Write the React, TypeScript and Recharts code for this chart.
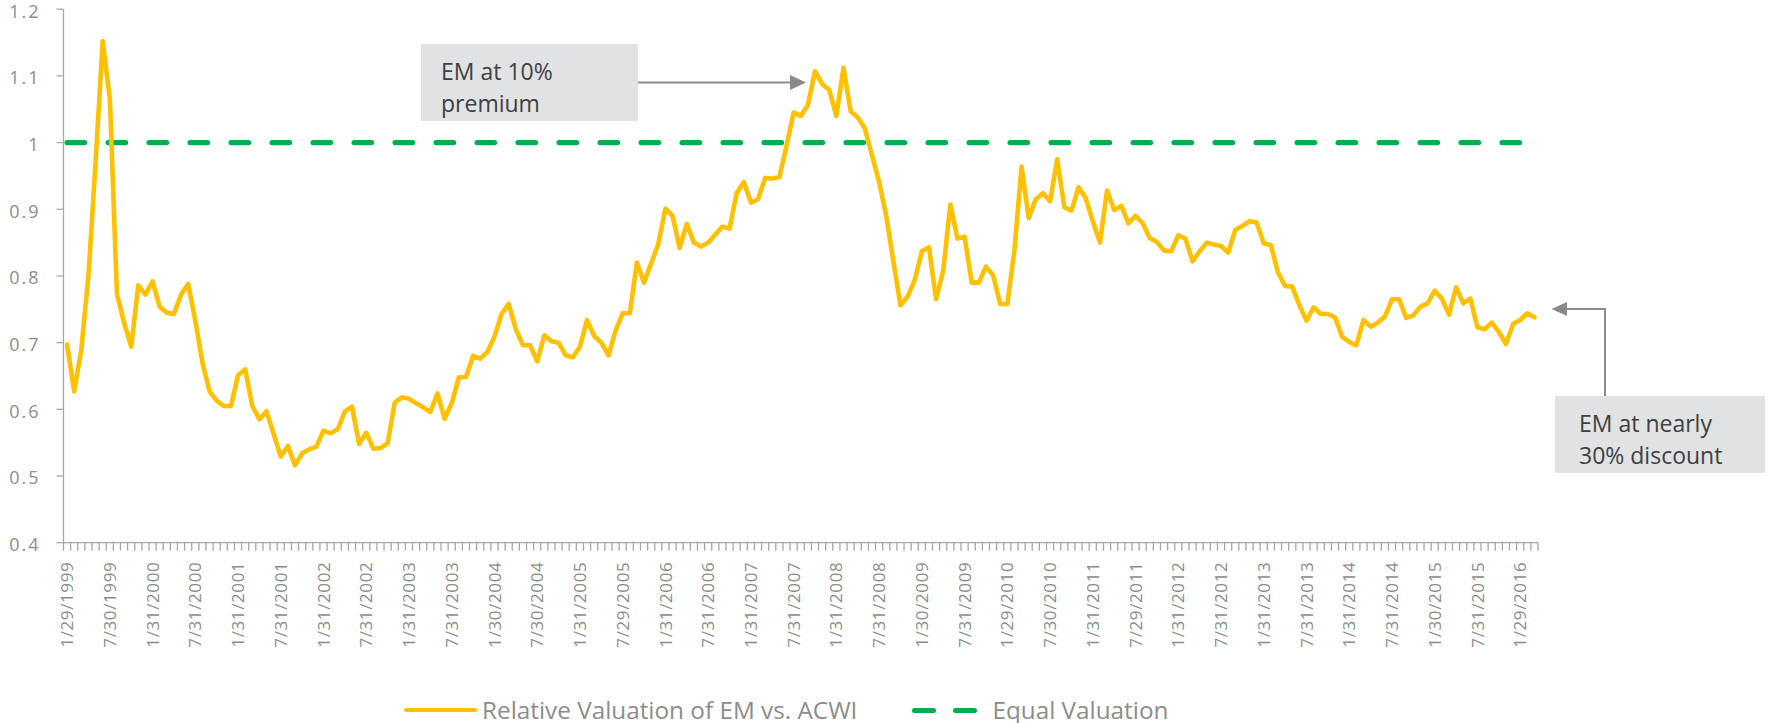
import { LineChart, Line, XAxis, YAxis } from 'recharts';

// monthly series, Jan 1999 .. Mar 2016
const START_YEAR = 1999;

const TICK_LABELS = [
  '1/29/1999', '7/30/1999', '1/31/2000', '7/31/2000', '1/31/2001', '7/31/2001',
  '1/31/2002', '7/31/2002', '1/31/2003', '7/31/2003', '1/30/2004', '7/30/2004',
  '1/31/2005', '7/29/2005', '1/31/2006', '7/31/2006', '1/31/2007', '7/31/2007',
  '1/31/2008', '7/31/2008', '1/30/2009', '7/31/2009', '1/29/2010', '7/30/2010',
  '1/31/2011', '7/29/2011', '1/31/2012', '7/31/2012', '1/31/2013', '7/31/2013',
  '1/31/2014', '7/31/2014', '1/30/2015', '7/31/2015', '1/29/2016',
];

const RELATIVE_VALUATION = [
  0.697, 0.627, 0.69, 0.8, 0.97, 1.152, 1.067, 0.773, 0.73, 0.694,
  0.786, 0.772, 0.792, 0.754, 0.745, 0.743, 0.772, 0.788, 0.733, 0.67,
  0.627, 0.613, 0.605, 0.605, 0.651, 0.66, 0.605, 0.585, 0.597, 0.563,
  0.529, 0.545, 0.516, 0.534, 0.54, 0.544, 0.568, 0.564, 0.57, 0.597,
  0.604, 0.548,
  0.565, 0.541, 0.542, 0.549, 0.61, 0.618, 0.616, 0.609, 0.603, 0.596,
  0.624, 0.586, 0.609, 0.648, 0.648, 0.68, 0.676, 0.686, 0.709, 0.743,
  0.758, 0.72, 0.696, 0.696, 0.672, 0.711, 0.702, 0.7, 0.681, 0.678,
  0.694, 0.734, 0.71, 0.7, 0.681, 0.718, 0.744, 0.744, 0.82, 0.79,
  0.819, 0.848,
  0.901, 0.89, 0.842, 0.878, 0.85, 0.844, 0.85, 0.862, 0.874, 0.871,
  0.924, 0.941, 0.91, 0.915, 0.947, 0.946, 0.948, 0.995, 1.045, 1.04,
  1.056, 1.107, 1.088, 1.079, 1.04, 1.112, 1.047, 1.038, 1.021, 0.981,
  0.941, 0.89, 0.822, 0.756, 0.769, 0.794, 0.837, 0.843, 0.765, 0.808,
  0.907, 0.856, 0.859,
  0.79, 0.79, 0.814, 0.801, 0.758, 0.758, 0.839, 0.964, 0.887, 0.915,
  0.924, 0.912, 0.975, 0.903, 0.898, 0.933, 0.917, 0.882, 0.85, 0.928,
  0.899, 0.905, 0.879, 0.89, 0.879, 0.857, 0.851, 0.838, 0.837, 0.861,
  0.856, 0.822, 0.837, 0.85, 0.847, 0.845, 0.835, 0.869, 0.875, 0.882,
  0.88, 0.849,
  0.846, 0.805, 0.785, 0.784, 0.756, 0.733, 0.753, 0.743, 0.743, 0.738,
  0.709, 0.701, 0.696, 0.734, 0.724, 0.73, 0.739, 0.765, 0.765, 0.737,
  0.741, 0.754, 0.759, 0.778, 0.766, 0.742, 0.783, 0.759, 0.766, 0.723,
  0.72, 0.73, 0.716, 0.698, 0.728, 0.734, 0.744, 0.738,
];

const EQUAL_VALUATION = 1;
const Y_TICKS = [0.4, 0.5, 0.6, 0.7, 0.8, 0.9, 1, 1.1, 1.2];

const data = RELATIVE_VALUATION.map((value, i) => ({
  month: `${START_YEAR + Math.floor(i / 12)}-${String((i % 12) + 1).padStart(2, '0')}`,
  relative: value,
  equal: EQUAL_VALUATION,
}));

const W = 1775;
const H = 723;
const PLOT_LEFT = 63.5;
const PLOT_RIGHT = 1538;
const PLOT_TOP = 9.2;
const PLOT_BOTTOM = 542.7;
const BAND = (PLOT_RIGHT - PLOT_LEFT) / data.length;

const AXIS_GREY = '#A6A6A6';
const TEXT_GREY = '#8C8C8C';
const ARROW_GREY = '#8A8A8A';
const YELLOW = '#FFC000';
const GREEN = '#00B050';
const BOX_GREY = '#E1E2E4';

const MonthTick = (props: any) => {
  const { x, y } = props;
  const index = props.index ?? props.payload?.index ?? 0;
  const label = index % 6 === 0 ? TICK_LABELS[index / 6] : null;
  const ty = y + 19;
  return (
    <g>
      <line x1={x - BAND / 2} x2={x - BAND / 2} y1={y} y2={y + 8} stroke={AXIS_GREY} strokeWidth={1.3} />
      {index === data.length - 1 && (
        <line x1={x + BAND / 2} x2={x + BAND / 2} y1={y} y2={y + 8} stroke={AXIS_GREY} strokeWidth={1.3} />
      )}
      {label && (
        <text
          x={x}
          y={ty}
          dy="0.36em"
          textAnchor="end"
          transform={`rotate(-90, ${x}, ${ty})`}
          fill={TEXT_GREY}
          fontSize={17}
          letterSpacing={0.6}
          fontFamily="'Open Sans', sans-serif"
        >
          {label}
        </text>
      )}
    </g>
  );
};

const legendText = {
  fontFamily: "'Open Sans', sans-serif",
  fontSize: 24.3,
  color: '#8C8C8C',
  lineHeight: '28px',
  whiteSpace: 'nowrap' as const,
};

const boxText = {
  fontFamily: "'Open Sans', sans-serif",
  fontSize: 23,
  lineHeight: '32px',
  color: '#404040',
};

export default function App() {
  return (
    <div style={{ position: 'absolute', left: 0, top: 0, width: W, height: H, background: '#fff' }}>
      <LineChart
        width={W}
        height={H}
        data={data}
        margin={{ top: PLOT_TOP, right: W - PLOT_RIGHT, bottom: 0, left: 0 }}
      >
        <XAxis
          dataKey="month"
          interval={0}
          height={H - PLOT_BOTTOM}
          padding={{ left: BAND / 2, right: BAND / 2 }}
          axisLine={{ stroke: AXIS_GREY, strokeWidth: 1.3 }}
          tickLine={false}
          tickSize={0}
          tickMargin={0}
          tick={<MonthTick />}
        />
        <YAxis
          type="number"
          domain={[0.4, 1.2]}
          ticks={Y_TICKS}
          interval={0}
          width={PLOT_LEFT}
          axisLine={{ stroke: AXIS_GREY, strokeWidth: 1.3 }}
          tickLine={{ stroke: AXIS_GREY, strokeWidth: 1.3 }}
          tickSize={7}
          tickMargin={16}
          tickFormatter={(v: number) => String(Math.round(v * 10) / 10)}
          tick={{ fill: TEXT_GREY, fontSize: 18, letterSpacing: 2, fontFamily: "'Open Sans', sans-serif", dy: 2 }}
        />
        <Line
          dataKey="equal"
          type="linear"
          stroke={GREEN}
          strokeWidth={5.2}
          strokeDasharray="17.5 23.5"
          strokeLinecap="round"
          dot={false}
          isAnimationActive={false}
        />
        <Line
          dataKey="relative"
          type="linear"
          stroke={YELLOW}
          strokeWidth={4.6}
          strokeLinejoin="round"
          strokeLinecap="round"
          dot={false}
          isAnimationActive={false}
        />
      </LineChart>

      {/* annotations */}
      <div style={{ position: 'absolute', left: 421, top: 44, width: 217, height: 77, background: BOX_GREY, boxSizing: 'border-box', padding: '11px 0 0 20px', ...boxText }}>
        EM at 10%
        <br />
        premium
      </div>
      <div style={{ position: 'absolute', left: 1555, top: 396, width: 210, height: 77, background: BOX_GREY, boxSizing: 'border-box', padding: '11px 0 0 24px', ...boxText }}>
        EM at nearly
        <br />
        30% discount
      </div>
      <svg width={W} height={H} style={{ position: 'absolute', left: 0, top: 0, pointerEvents: 'none' }}>
        <line x1={638} y1={82.5} x2={791} y2={82.5} stroke={ARROW_GREY} strokeWidth={2} />
        <polygon points="806,82.5 790,75 790,90" fill={ARROW_GREY} />
        <polyline points="1605,396 1605,309 1566,309" fill="none" stroke={ARROW_GREY} strokeWidth={2} />
        <polygon points="1551.5,309 1567,302 1567,316" fill={ARROW_GREY} />
      </svg>

      {/* legend */}
      <div style={{ position: 'absolute', left: 404, top: 696, display: 'flex', alignItems: 'center' }}>
        <div style={{ width: 73, height: 4.7, borderRadius: 3, background: YELLOW }} />
        <div style={{ ...legendText, marginLeft: 5 }}>Relative Valuation of EM vs. ACWI</div>
        <div style={{ marginLeft: 55, display: 'flex' }}>
          <div style={{ width: 24, height: 5, borderRadius: 3, background: GREEN }} />
          <div style={{ width: 24, height: 5, borderRadius: 3, background: GREEN, marginLeft: 17 }} />
        </div>
        <div style={{ ...legendText, marginLeft: 15 }}>Equal Valuation</div>
      </div>
    </div>
  );
}
